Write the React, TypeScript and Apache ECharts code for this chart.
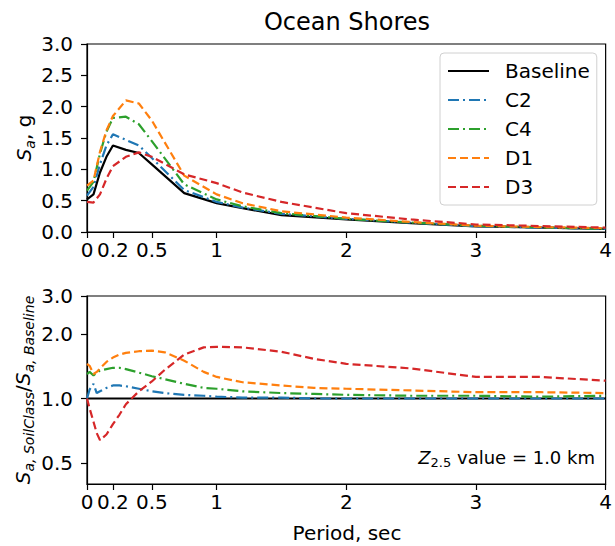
import React, { useEffect, useRef } from "react";
import * as echarts from "echarts";

// ---------- data ----------
const seriesNames = ["Baseline", "C2", "C4", "D1", "D3"];

// top panel: spectral acceleration Sa (g) vs period (s)
const topPeriods = [0, 0.05, 0.1, 0.15, 0.2, 0.3, 0.4, 0.5, 0.75, 1.0, 1.2, 1.5, 2.0, 2.5, 3.0, 4.0];
const saBaseline = [0.52, 0.6, 0.95, 1.2, 1.38, 1.31, 1.26, 1.08, 0.62, 0.46, 0.38, 0.27, 0.2, 0.14, 0.09, 0.05];
const saC2 = [0.58, 0.72, 1.08, 1.38, 1.56, 1.47, 1.38, 1.18, 0.67, 0.48, 0.39, 0.29, 0.21, 0.15, 0.09, 0.05];
const saC4 = [0.66, 0.8, 1.25, 1.6, 1.82, 1.84, 1.72, 1.45, 0.76, 0.52, 0.41, 0.3, 0.21, 0.15, 0.1, 0.05];
const saD1 = [0.74, 0.82, 1.28, 1.62, 1.85, 2.1, 2.05, 1.78, 0.9, 0.6, 0.46, 0.33, 0.23, 0.16, 0.1, 0.06];
const saD3 = [0.48, 0.47, 0.6, 0.85, 1.05, 1.2, 1.27, 1.2, 0.92, 0.78, 0.63, 0.48, 0.3, 0.2, 0.12, 0.07];

// bottom panel: ratio Sa,SoilClass / Sa,Baseline vs period (s)
const ratioPeriods = [0, 0.02, 0.05, 0.075, 0.1, 0.15, 0.2, 0.25, 0.3, 0.4, 0.5, 0.6, 0.75, 0.9, 1.0, 1.2, 1.5, 1.75, 2.0, 2.5, 3.0, 3.5, 4.0];
const ratioBaseline = [1, 1, 1, 1, 1, 1, 1, 1, 1, 1, 1, 1, 1, 1, 1, 1, 1, 1, 1, 1, 1, 1, 1];
const ratioC2 = [1.0, 1.1, 1.17, 1.06, 1.08, 1.12, 1.15, 1.15, 1.14, 1.11, 1.08, 1.06, 1.04, 1.03, 1.02, 1.01, 1.01, 1.0, 1.0, 1.0, 1.0, 1.0, 1.0];
const ratioC4 = [1.3, 1.33, 1.28, 1.32, 1.35, 1.37, 1.39, 1.39, 1.37, 1.32, 1.27, 1.23, 1.17, 1.12, 1.11, 1.08, 1.06, 1.05, 1.04, 1.03, 1.03, 1.02, 1.03];
const ratioD1 = [1.45, 1.42, 1.3, 1.33, 1.38, 1.48, 1.55, 1.6, 1.63, 1.66, 1.67, 1.64, 1.5, 1.33, 1.26, 1.19, 1.15, 1.12, 1.11, 1.09, 1.07, 1.07, 1.06];
const ratioD3 = [1.0, 0.9, 0.78, 0.69, 0.64, 0.68, 0.76, 0.84, 0.94, 1.08, 1.2, 1.36, 1.6, 1.73, 1.74, 1.73, 1.65, 1.53, 1.45, 1.38, 1.26, 1.26, 1.21];

// ticks
const xTicks = [0, 0.2, 0.5, 1, 2, 3, 4];
const ratioTicks = [0.5, 1.0, 2.0, 3.0];
const ratioMin = 0.4;
const ratioMax = 3.0;

// ---------- styling ----------
const FONT = "DejaVu Sans";
const colors = ["#000000", "#1f77b4", "#2ca02c", "#ff7f0e", "#d62728"];
const dashDot = [11, 4, 2, 4];
const dashed = [8, 4];
const lineTypes: any[] = ["solid", dashDot, dashDot, dashed, dashed];

const topData = [saBaseline, saC2, saC4, saD1, saD3];
const ratioData = [ratioBaseline, ratioC2, ratioC4, ratioD1, ratioD3];

const GL = 87;
const GW = 520;
const GH = 188;
const TOP1 = 44;
const TOP2 = 296;
const TICK_FS = 20;

export default function App() {
  const ref = useRef<HTMLDivElement>(null);

  useEffect(() => {
    if (!ref.current) return;
    const chart = echarts.init(ref.current, null, { renderer: "svg" });

    const log10 = (v: number) => Math.log10(v);

    const axisCommonX = (gridIndex: number) => ({
      type: "value",
      gridIndex,
      min: 0,
      max: 4,
      axisLine: { show: true, onZero: false, lineStyle: { color: "#000", width: 1.2 } },
      axisTick: { show: true, customValues: xTicks, length: 6, lineStyle: { color: "#000", width: 1.2 } },
      axisLabel: {
        customValues: xTicks,
        color: "#000",
        fontFamily: FONT,
        fontSize: TICK_FS,
        margin: 8,
        formatter: (v: number) => String(v),
      },
      splitLine: { show: false },
    });

    const series: any[] = [];
    seriesNames.forEach((name, i) => {
      series.push({
        name,
        type: "line",
        xAxisIndex: 0,
        yAxisIndex: 0,
        symbol: "none",
        smooth: false,
        z: 2 + i,
        lineStyle: { color: colors[i], width: 2.2, type: lineTypes[i] },
        itemStyle: { color: colors[i] },
        data: topPeriods.map((t, k) => [t, topData[i][k]]),
      });
    });
    seriesNames.forEach((name, i) => {
      series.push({
        name,
        type: "line",
        xAxisIndex: 1,
        yAxisIndex: 1,
        symbol: "none",
        smooth: false,
        z: 2 + i,
        lineStyle: { color: colors[i], width: 2.2, type: lineTypes[i] },
        itemStyle: { color: colors[i] },
        data: ratioPeriods.map((t, k) => [t, log10(ratioData[i][k])]),
      });
    });

    const richY = {
      s: { fontFamily: FONT, fontSize: 20, fontStyle: "italic", lineHeight: 26, fill: "#000" },
      sub: { fontFamily: FONT, fontSize: 14, fontStyle: "italic", verticalAlign: "bottom", lineHeight: 15, fill: "#000" },
      n: { fontFamily: FONT, fontSize: 20, lineHeight: 26, fill: "#000" },
    };

    const option: any = {
      animation: false,
      backgroundColor: "#fff",
      textStyle: { fontFamily: FONT },
      grid: [
        { left: GL, top: TOP1, width: GW, height: GH, show: true, borderColor: "#000", borderWidth: 1.2, backgroundColor: "transparent" },
        { left: GL, top: TOP2, width: GW, height: GH, show: true, borderColor: "#000", borderWidth: 1.2, backgroundColor: "transparent" },
      ],
      xAxis: [axisCommonX(0), axisCommonX(1)],
      yAxis: [
        {
          type: "value",
          gridIndex: 0,
          min: 0,
          max: 3,
          interval: 0.5,
          axisLine: { show: true, lineStyle: { color: "#000", width: 1.2 } },
          axisTick: { show: true, length: 6, lineStyle: { color: "#000", width: 1.2 } },
          axisLabel: { color: "#000", fontFamily: FONT, fontSize: TICK_FS, margin: 14, formatter: (v: number) => v.toFixed(1) },
          splitLine: { show: false },
        },
        {
          type: "value",
          gridIndex: 1,
          min: log10(ratioMin),
          max: log10(ratioMax),
          axisLine: { show: true, lineStyle: { color: "#000", width: 1.2 } },
          axisTick: { show: true, customValues: ratioTicks.map(log10), length: 6, lineStyle: { color: "#000", width: 1.2 } },
          axisLabel: {
            customValues: ratioTicks.map(log10),
            color: "#000",
            fontFamily: FONT,
            fontSize: TICK_FS,
            margin: 14,
            formatter: (v: number) => Math.pow(10, v).toFixed(1),
          },
          splitLine: { show: false },
        },
      ],
      legend: {
        data: seriesNames,
        orient: "vertical",
        left: 440,
        top: 53,
        itemWidth: 41,
        itemHeight: 12,
        itemGap: 9,
        padding: [8, 7, 8, 7],
        backgroundColor: "#fff",
        borderColor: "#d0d0d0",
        borderWidth: 1,
        borderRadius: 4,
        itemStyle: { opacity: 0 },
        textStyle: { color: "#000", fontFamily: FONT, fontSize: 20, padding: [0, 0, 0, 11] },
        selectedMode: false,
      },
      graphic: [
        {
          type: "text",
          x: 347,
          y: 22,
          style: {
            text: "Ocean Shores",
            fill: "#000",
            font: `24px "${FONT}"`,
            textAlign: "center",
            textVerticalAlign: "middle",
            align: "center",
            verticalAlign: "middle",
          },
        },
        {
          type: "text",
          x: 347,
          y: 533,
          style: {
            text: "Period, sec",
            fill: "#000",
            font: `20px "${FONT}"`,
            textAlign: "center",
            textVerticalAlign: "middle",
            align: "center",
            verticalAlign: "middle",
          },
        },
        {
          type: "text",
          x: 24,
          y: 138,
          rotation: Math.PI / 2,
          style: {
            text: "{s|S}{sub|a}{n|, g}",
            fill: "#000",
            textAlign: "center",
            textVerticalAlign: "middle",
            align: "center",
            verticalAlign: "middle",
            rich: richY,
          },
        },
        {
          type: "text",
          x: 23,
          y: 390,
          rotation: Math.PI / 2,
          style: {
            text: "{s|S}{sub|a, SoilClass}{n|/}{s|S}{sub|a, Baseline}",
            fill: "#000",
            textAlign: "center",
            textVerticalAlign: "middle",
            align: "center",
            verticalAlign: "middle",
            rich: richY,
          },
        },
        {
          type: "text",
          x: 595,
          y: 457,
          style: {
            text: "{z|Z}{sub|2.5}{n| value = 1.0 km}",
            fill: "#000",
            textAlign: "right",
            textVerticalAlign: "middle",
            align: "right",
            verticalAlign: "middle",
            rich: {
              z: { fontFamily: FONT, fontSize: 18, fontStyle: "italic", lineHeight: 23, fill: "#000" },
              sub: { fontFamily: FONT, fontSize: 13, verticalAlign: "bottom", lineHeight: 14, fill: "#000" },
              n: { fontFamily: FONT, fontSize: 18, lineHeight: 23, fill: "#000" },
            },
          },
        },
      ],
      series,
    };

    chart.setOption(option);
    return () => chart.dispose();
  }, []);

  return (
    <div
      ref={ref}
      style={{ position: "fixed", left: 0, top: 0, width: 615, height: 546 }}
    />
  );
}
